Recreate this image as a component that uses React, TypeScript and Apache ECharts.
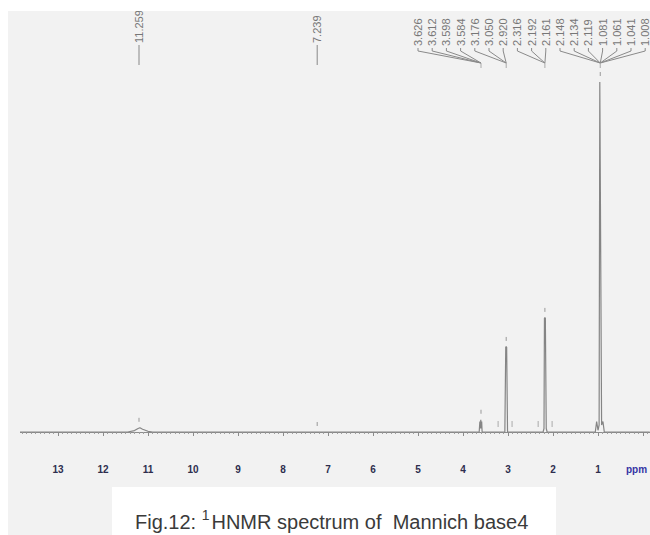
import React, { useEffect, useRef } from "react";
import * as echarts from "echarts";

// ---- data ----
const spectrumPpm = [
  13.85, 11.45, 11.3, 11.22, 11.18, 11.12, 11.0, 10.9,
  3.64, 3.625, 3.615, 3.605, 3.595, 3.585, 3.575,
  3.07, 3.05, 3.03, 3.01,
  2.22, 2.2, 2.19, 2.17, 2.15, 2.13,
  1.06, 1.03, 1.0, 0.975, 0.96, 0.945, 0.92, 0.89, 0.86, -0.15,
];
const spectrumIntensity = [
  0, 0, 0.4, 1.0, 1.2, 0.8, 0.2, 0,
  0, 3, 1, 3.5, 1, 3, 0,
  0, 24.3, 24.3, 0,
  0, 1, 32.6, 32.6, 1, 0,
  0, 3, 0.5, 2, 100, 100, 2, 3, 0, 0,
];
const tickLabelValues = [13, 12, 11, 10, 9, 8, 7, 6, 5, 4, 3, 2, 1];
const axisUnit = "ppm";

const singleLabels = ["11.259", "7.239"];
const singlePpm = [11.2, 7.24];

const groupTargetPpm = [3.6, 3.04, 2.18, 0.95];
const groupLabels = [
  ["3.626", "3.612", "3.598", "3.584"],
  ["3.176", "3.050", "2.920"],
  ["2.316", "2.192", "2.161"],
  ["2.148", "2.134", "2.119", "1.081", "1.061", "1.041", "1.008"],
];

const pickPpm = [11.2, 7.24, 3.6, 3.04, 2.18, 0.95];
const pickIntensity = [1.2, 0, 3.5, 24.3, 32.6, 100];
const integralPpm = [3.22, 2.91, 2.33, 2.02];

const captionPre = "Fig.12: ";
const captionSup = "1";
const captionPost = "HNMR spectrum of  Mannich base4";

export default function App() {
  const ref = useRef<HTMLDivElement>(null);
  useEffect(() => {
    if (!ref.current) return;
    const chart = echarts.init(ref.current, null, { renderer: "svg" });
    const data = spectrumPpm.map((p, i) => [p, spectrumIntensity[i]]);
    chart.setOption({
      animation: false,
      backgroundColor: "#f2f2f2",
      grid: { left: 5, top: 71, width: 675, height: 371, containLabel: false, outerBoundsMode: "none" },
      xAxis: {
        type: "value",
        min: -1,
        max: 14,
        interval: 1,
        inverse: true,
        splitLine: { show: false },
        axisLine: { lineStyle: { color: "#8c8c8c", width: 1 } },
        axisTick: { length: 4, lineStyle: { color: "#8c8c8c" } },
        minorTick: { show: true, splitNumber: 10, length: 2, lineStyle: { color: "#a0a0a0" } },
        axisLabel: {
          margin: 11,
          fontSize: 10,
          fontWeight: "bold",
          fontFamily: "Liberation Sans",
          color: "#2e2e4e",
          formatter: (v: number) => (tickLabelValues.includes(v) ? String(v) : ""),
        },
      },
      yAxis: { type: "value", min: -6, max: 100, show: false },
      series: [
        {
          type: "line",
          data,
          symbol: "none",
          lineStyle: { color: "#858585", width: 1.2 },
        },
      ],
    });

    const px = (ppm: number, v: number) => chart.convertToPixel({ gridIndex: 0 }, [ppm, v]) as number[];
    const g: any[] = [];
    const textStyle = { fontSize: 11, fontFamily: "Liberation Sans", fill: "#777", align: "left", verticalAlign: "middle" };

    singleLabels.forEach((t, i) => {
      const x = px(singlePpm[i], 0)[0];
      g.push({ type: "line", shape: { x1: x, y1: 34, x2: x, y2: 54 }, style: { stroke: "#888", lineWidth: 1 } });
      g.push({ type: "text", x, y: 32, rotation: Math.PI / 2, style: { ...textStyle, text: t } });
    });

    let idx = 0;
    const startX = 410;
    const step = 14.2;
    groupLabels.forEach((labels, gi) => {
      const tx = px(groupTargetPpm[gi], 0)[0];
      labels.forEach((t) => {
        const x = startX + idx * step;
        g.push({ type: "text", x, y: 35, rotation: Math.PI / 2, style: { ...textStyle, text: t } });
        g.push({
          type: "polyline",
          shape: { points: [[x, 37], [x, 40], [tx, 52]] },
          style: { stroke: "#8a8a8a", lineWidth: 1, fill: null },
        });
        idx++;
      });
      g.push({ type: "line", shape: { x1: tx, y1: 52, x2: tx, y2: 57 }, style: { stroke: "#aaa", lineWidth: 1 } });
    });

    pickPpm.forEach((p, i) => {
      const [x, y] = px(p, pickIntensity[i]);
      g.push({ type: "line", shape: { x1: x, y1: y - 10, x2: x, y2: y - 6 }, style: { stroke: "#999", lineWidth: 1 } });
    });
    integralPpm.forEach((p) => {
      const [x, y] = px(p, 0);
      g.push({ type: "line", shape: { x1: x, y1: y - 11, x2: x, y2: y - 5 }, style: { stroke: "#aaa", lineWidth: 1 } });
    });

    g.push({ type: "rect", z: 100, shape: { x: 0, y: 0, width: 12, height: 470 }, style: { fill: "#f2f2f2" } });

    const ly = px(0, -6)[1] + 16;
    g.push({
      type: "text",
      x: 618,
      y: ly,
      style: { text: axisUnit, fontSize: 10, fontWeight: "bold", fontFamily: "Liberation Sans", fill: "#3535a5", align: "left", verticalAlign: "middle" },
    });

    g.push({ type: "rect", z: 100, shape: { x: 104, y: 476, width: 444, height: 60 }, style: { fill: "#ffffff" } });
    g.push({
      type: "text",
      z: 101,
      x: 127,
      y: 509,
      style: {
        text: `{a|${captionPre}}{s|${captionSup}}{a|${captionPost}}`,
        align: "left",
        verticalAlign: "middle",
        rich: {
          a: { fontSize: 20, fontFamily: "Liberation Sans", fill: "#3a3a3a", lineHeight: 24, verticalAlign: "bottom" },
          s: { fontSize: 14, fontFamily: "Liberation Sans", fill: "#3a3a3a", lineHeight: 24, verticalAlign: "top", padding: [0, 2, 8, 0] },
        },
      },
    });

    chart.setOption({ graphic: g });
    return () => chart.dispose();
  }, []);

  return (
    <div style={{ position: "absolute", left: 0, top: 0, width: 650, height: 535, background: "#ffffff", overflow: "hidden" }}>
      <div ref={ref} style={{ position: "absolute", left: 8, top: 11, width: 642, height: 524, overflow: "hidden" }} />
    </div>
  );
}
